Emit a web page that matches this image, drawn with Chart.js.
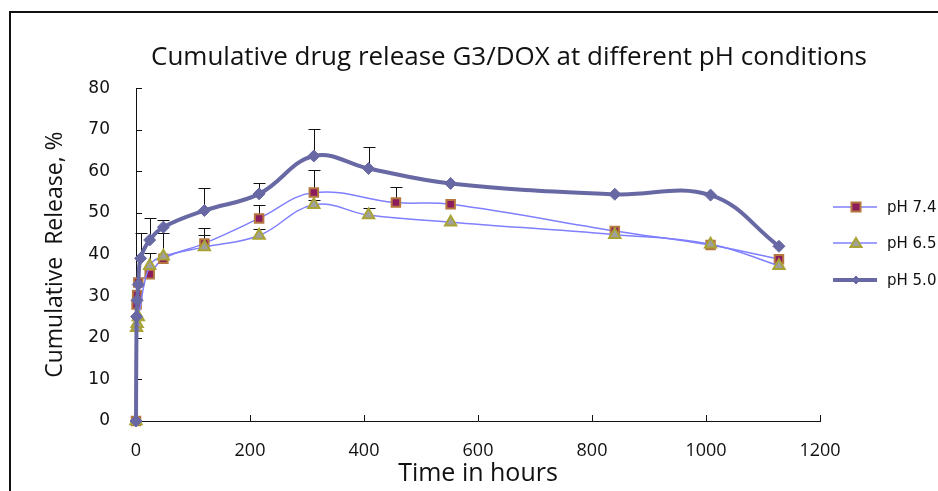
<!DOCTYPE html>
<html>
<head>
<meta charset="utf-8">
<script src="https://cdn.jsdelivr.net/npm/chart.js@4.4.0/dist/chart.umd.min.js"></script>
<style>
  html, body { margin: 0; padding: 0; background: #fff; overflow: hidden; }
  #wrap { position: relative; width: 938px; height: 491px; }
  #frame { position: absolute; left: 9px; top: 11px; width: 1000px; height: 600px; border: 2px solid #111; box-sizing: border-box; pointer-events: none; }
  canvas { position: absolute; left: 0; top: 0; }
</style>
</head>
<body>
<div id="wrap">
  <canvas id="c" width="938" height="491"></canvas>
  <div id="frame"></div>
</div>
<script>
// ---- data ----
const chartTitle = "Cumulative drug release G3/DOX at different pH conditions";
const xTitle = "Time in hours";
const yTitle = "Cumulative  Release, %";
const seriesNames = ["pH 7.4", "pH 6.5", "pH 5.0"];

const time74 = [0, 1, 2, 4, 24, 48, 120, 216, 312, 456, 552, 840, 1008, 1128];
const rel74  = [0, 28, 30.3, 33.3, 35.3, 39, 42.7, 48.7, 54.9, 52.5, 52.1, 45.7, 42.3, 38.9];
const err74  = [0, 0, 0, 0, 5, 6.2, 3.6, 3.2, 5.4, 3.8, 0, 0, 0, 0];

const time65 = [0, 1, 2, 4, 24, 48, 120, 216, 312, 408, 552, 840, 1008, 1128];
const rel65  = [0, 22.4, 23.4, 25, 37.3, 39.6, 41.8, 44.6, 52, 49.5, 47.8, 44.8, 42.5, 37.3];
const err65  = [0, 0, 0, 0, 0, 0, 2.8, 1.6, 1.2, 1.7, 0, 0, 0, 0];

const time50 = [0, 1, 2, 4, 8, 24, 48, 120, 216, 312, 408, 552, 840, 1008, 1128];
const rel50  = [0, 25.1, 29, 32.8, 39.1, 43.5, 46.6, 50.6, 54.6, 63.7, 60.7, 57.1, 54.5, 54.3, 42];
const err50  = [0, 0, 0, 0, 6, 5.2, 1.8, 5.5, 2.6, 6.4, 5.1, 0, 0, 0, 0];

const xTicks = [0, 200, 400, 600, 800, 1000, 1200];
const yTicks = [0, 10, 20, 30, 40, 50, 60, 70, 80];

function pts(xs, ys) { return xs.map((x, i) => ({ x: x, y: ys[i] })); }
const errors = [err74, err65, err50];

const errorBarPlugin = {
  id: 'errorBars',
  beforeDatasetsDraw(chart) {
    const ctx = chart.ctx;
    const xs = chart.scales.x, ys = chart.scales.y;
    ctx.save();
    ctx.strokeStyle = '#111';
    ctx.lineWidth = 1;
    chart.data.datasets.forEach((ds, di) => {
      ds.data.forEach((p, i) => {
        const e = errors[di][i];
        if (!e) return;
        const px = Math.round(xs.getPixelForValue(p.x)) + 0.5;
        const y0 = ys.getPixelForValue(p.y);
        const y1 = Math.round(ys.getPixelForValue(p.y + e)) + 0.5;
        ctx.beginPath();
        ctx.moveTo(px, y0); ctx.lineTo(px, y1);
        ctx.moveTo(px - 6, y1); ctx.lineTo(px + 6, y1);
        ctx.stroke();
      });
    });
    ctx.restore();
  }
};

const innerTicksPlugin = {
  id: 'innerTicks',
  beforeDatasetsDraw(chart) {
    const ctx = chart.ctx;
    const xs = chart.scales.x, ys = chart.scales.y;
    const a = chart.chartArea;
    ctx.save();
    ctx.strokeStyle = '#111';
    ctx.lineWidth = 1;
    ctx.beginPath();
    yTicks.forEach(v => {
      const y = Math.round(ys.getPixelForValue(v)) + 0.5;
      ctx.moveTo(a.left, y); ctx.lineTo(a.left + 6, y);
    });
    xTicks.forEach(v => {
      const x = Math.round(xs.getPixelForValue(v)) + 0.5;
      ctx.moveTo(x, a.bottom); ctx.lineTo(x, a.bottom - 6);
    });
    ctx.stroke();
    ctx.restore();
  }
};

const customLegendPlugin = {
  id: 'customLegend',
  afterDraw(chart) {
    const ctx = chart.ctx;
    const rows = [207, 243, 280];
    ctx.save();
    chart.data.datasets.forEach((ds, i) => {
      const y = rows[i];
      ctx.strokeStyle = ds.borderColor;
      ctx.lineWidth = ds.borderWidth;
      ctx.beginPath();
      ctx.moveTo(833, y); ctx.lineTo(877, y);
      ctx.stroke();
      ctx.fillStyle = ds.pointBackgroundColor;
      ctx.strokeStyle = ds.pointBorderColor;
      ctx.lineWidth = ds.pointBorderWidth;
      const cx = 856;
      ctx.beginPath();
      if (ds.pointStyle === 'rect') {
        ctx.rect(cx - 4.5, y - 4.5, 9, 9);
      } else if (ds.pointStyle === 'triangle') {
        ctx.moveTo(cx, y - 5); ctx.lineTo(cx + 5.5, y + 4); ctx.lineTo(cx - 5.5, y + 4); ctx.closePath();
      } else {
        ctx.moveTo(cx, y - 4); ctx.lineTo(cx + 4, y); ctx.lineTo(cx, y + 4); ctx.lineTo(cx - 4, y); ctx.closePath();
      }
      ctx.fill(); ctx.stroke();
      ctx.fillStyle = '#111';
      ctx.font = '15px "DejaVu Sans"';
      ctx.textBaseline = 'middle';
      ctx.textAlign = 'left';
      ctx.fillText(ds.label, 887, y + 1);
    });
    ctx.restore();
  }
};

new Chart(document.getElementById('c'), {
  type: 'line',
  data: {
    datasets: [
      {
        label: seriesNames[0], data: pts(time74, rel74), clip: false,
        borderColor: '#7f7fff', borderWidth: 1.5, tension: 0.4,
        pointStyle: 'rect', pointRadius: 6, pointBackgroundColor: '#8b1c5e',
        pointBorderColor: '#b5773f', pointBorderWidth: 2, order: 2
      },
      {
        label: seriesNames[1], data: pts(time65, rel65), clip: false,
        borderColor: '#7f7fff', borderWidth: 1.5, tension: 0.4,
        pointStyle: 'triangle', pointRadius: 6.5, pointBackgroundColor: '#a0a0a0',
        pointBorderColor: '#a8a334', pointBorderWidth: 2, order: 1
      },
      {
        label: seriesNames[2], data: pts(time50, rel50), clip: false,
        borderColor: '#6868a4', borderWidth: 4, tension: 0.4,
        pointStyle: 'rectRot', pointRadius: 6, pointBackgroundColor: '#6868a4',
        pointBorderColor: '#6868a4', pointBorderWidth: 1, order: 0
      }
    ]
  },
  options: {
    responsive: false,
    animation: false,
    events: [],
    layout: { padding: { left: 80, right: 0, top: 0, bottom: 0 } },
    plugins: {
      legend: { display: false },
      tooltip: { enabled: false },
      title: {
        display: true, text: chartTitle, color: '#111',
        font: { family: 'Open Sans', size: 26, weight: 'normal', lineHeight: 1.2 },
        padding: { top: 42, bottom: 15 },
        align: 'center'
      }
    },
    scales: {
      x: {
        type: 'linear', min: 0, max: 1200,
        afterBuildTicks: s => { s.ticks = xTicks.map(v => ({ value: v })); },
        afterFit: s => { s.height = 70; },
        grid: { display: false },
        border: { display: true, color: '#111', width: 1 },
        ticks: { color: '#111', padding: 11, font: { family: 'Open Sans', size: 18 }, maxRotation: 0, callback: v => String(v) },
        title: { display: true, text: xTitle, color: '#111', font: { family: 'Open Sans', size: 25 }, padding: { top: 0, bottom: 2 } }
      },
      y: {
        type: 'linear', min: 0, max: 80,
        afterBuildTicks: s => { s.ticks = yTicks.map(v => ({ value: v })); },
        afterFit: s => { s.width = 56; },
        grid: { display: false, drawTicks: false },
        border: { display: true, color: '#111', width: 1 },
        ticks: { color: '#111', padding: 26, font: { family: 'DejaVu Sans', size: 17 }, callback: v => String(v) },
        title: { display: true, text: yTitle, color: '#111', font: { family: 'Open Sans', size: 23 }, padding: { top: -38.8, bottom: 0 } }
      },
      yRight: {
        type: 'linear', position: 'right', min: 0, max: 80,
        afterFit: s => { s.width = 118; },
        grid: { display: false, drawTicks: false },
        border: { display: false },
        ticks: { display: false }
      }
    }
  },
  plugins: [errorBarPlugin, innerTicksPlugin, customLegendPlugin]
});
</script>
</body>
</html>
